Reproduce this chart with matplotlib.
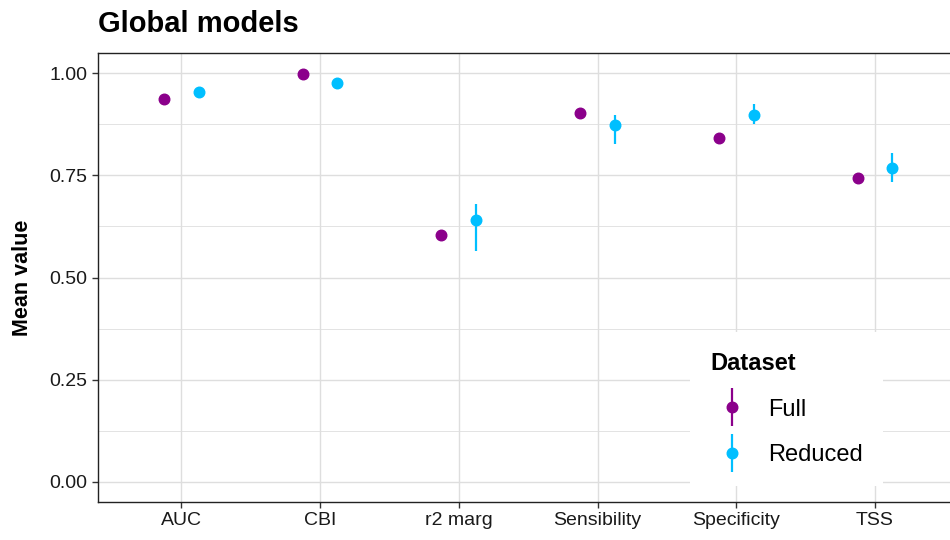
import matplotlib
matplotlib.use("Agg")
import matplotlib.pyplot as plt
import numpy as np
from matplotlib.ticker import MultipleLocator
from matplotlib.legend_handler import HandlerErrorbar

plt.rcParams['font.family'] = ['Liberation Sans', 'DejaVu Sans']

metrics = ["AUC", "CBI", "r2 marg", "Sensibility", "Specificity", "TSS"]

full_mean = [0.938, 0.999, 0.605, 0.903, 0.841, 0.743]
full_lo = [0.935, 0.997, 0.602, 0.900, 0.838, 0.740]
full_hi = [0.941, 1.000, 0.608, 0.906, 0.844, 0.746]

reduced_mean = [0.955, 0.976, 0.640, 0.873, 0.899, 0.769]
reduced_lo = [0.950, 0.961, 0.566, 0.826, 0.875, 0.735]
reduced_hi = [0.960, 0.985, 0.679, 0.897, 0.926, 0.806]

series = [
    ("Full", full_mean, full_lo, full_hi, "#8B008B", -0.125),
    ("Reduced", reduced_mean, reduced_lo, reduced_hi, "#00BFFF", 0.125),
]

fig = plt.figure(figsize=(9.5, 5.4), dpi=100)
ax = fig.add_axes([98 / 950, 38 / 540, 860.3 / 950, 449 / 540])

x = np.arange(len(metrics))
for name, m, lo, hi, col, off in series:
    m = np.asarray(m); lo = np.asarray(lo); hi = np.asarray(hi)
    ax.errorbar(x + off, m, yerr=[m - lo, hi - m], fmt='o', color=col,
                ms=7.6, elinewidth=1.6, capsize=0, label=name, zorder=3)

ax.set_xlim(-0.6, len(metrics) - 0.4)
ax.set_xticks(x)
ax.set_xticklabels(metrics)
ax.yaxis.set_major_locator(MultipleLocator(0.25))
ax.yaxis.set_minor_locator(MultipleLocator(0.125))
ax.set_ylim(-0.05, 1.05)
ax.set_yticks([0, 0.25, 0.5, 0.75, 1.0])
ax.set_yticklabels(["0.00", "0.25", "0.50", "0.75", "1.00"])

grid_col = "#DEDEDE"
ax.grid(True, which='major', color=grid_col, linewidth=1.0, zorder=0)
ax.grid(True, which='minor', axis='y', color=grid_col, linewidth=0.6, zorder=0)
ax.set_axisbelow(True)

for side in ['left', 'top', 'bottom']:
    ax.spines[side].set_color('#222222')
    ax.spines[side].set_linewidth(1.0)
ax.spines['right'].set_visible(False)

ax.tick_params(axis='both', which='major', length=4, width=1.0, color='#333333',
               labelsize=14, labelcolor='#1a1a1a', direction='out')
ax.tick_params(axis='y', which='minor', length=0)

ax.set_ylabel("Mean value", fontsize=15.5, fontweight='bold', labelpad=12)
fig.text(98 / 950, 1 - 24 / 540, "Global models", fontsize=21, fontweight='bold',
         ha='left', va='center')

leg = ax.legend(title="Dataset", loc='lower left', bbox_to_anchor=(0.688, 0.035),
                borderaxespad=0, frameon=True, fancybox=False, fontsize=17,
                title_fontsize=17, alignment='left', handlelength=1.86,
                handletextpad=0.6, labelspacing=1.0, borderpad=0.85,
                handler_map={type(ax.containers[0]): HandlerErrorbar(yerr_size=0.8)})
leg.get_title().set_fontweight('bold')
leg.get_frame().set_facecolor('white')
leg.get_frame().set_edgecolor('none')
leg.get_frame().set_alpha(1.0)

fig.savefig("out.png", dpi=100)
